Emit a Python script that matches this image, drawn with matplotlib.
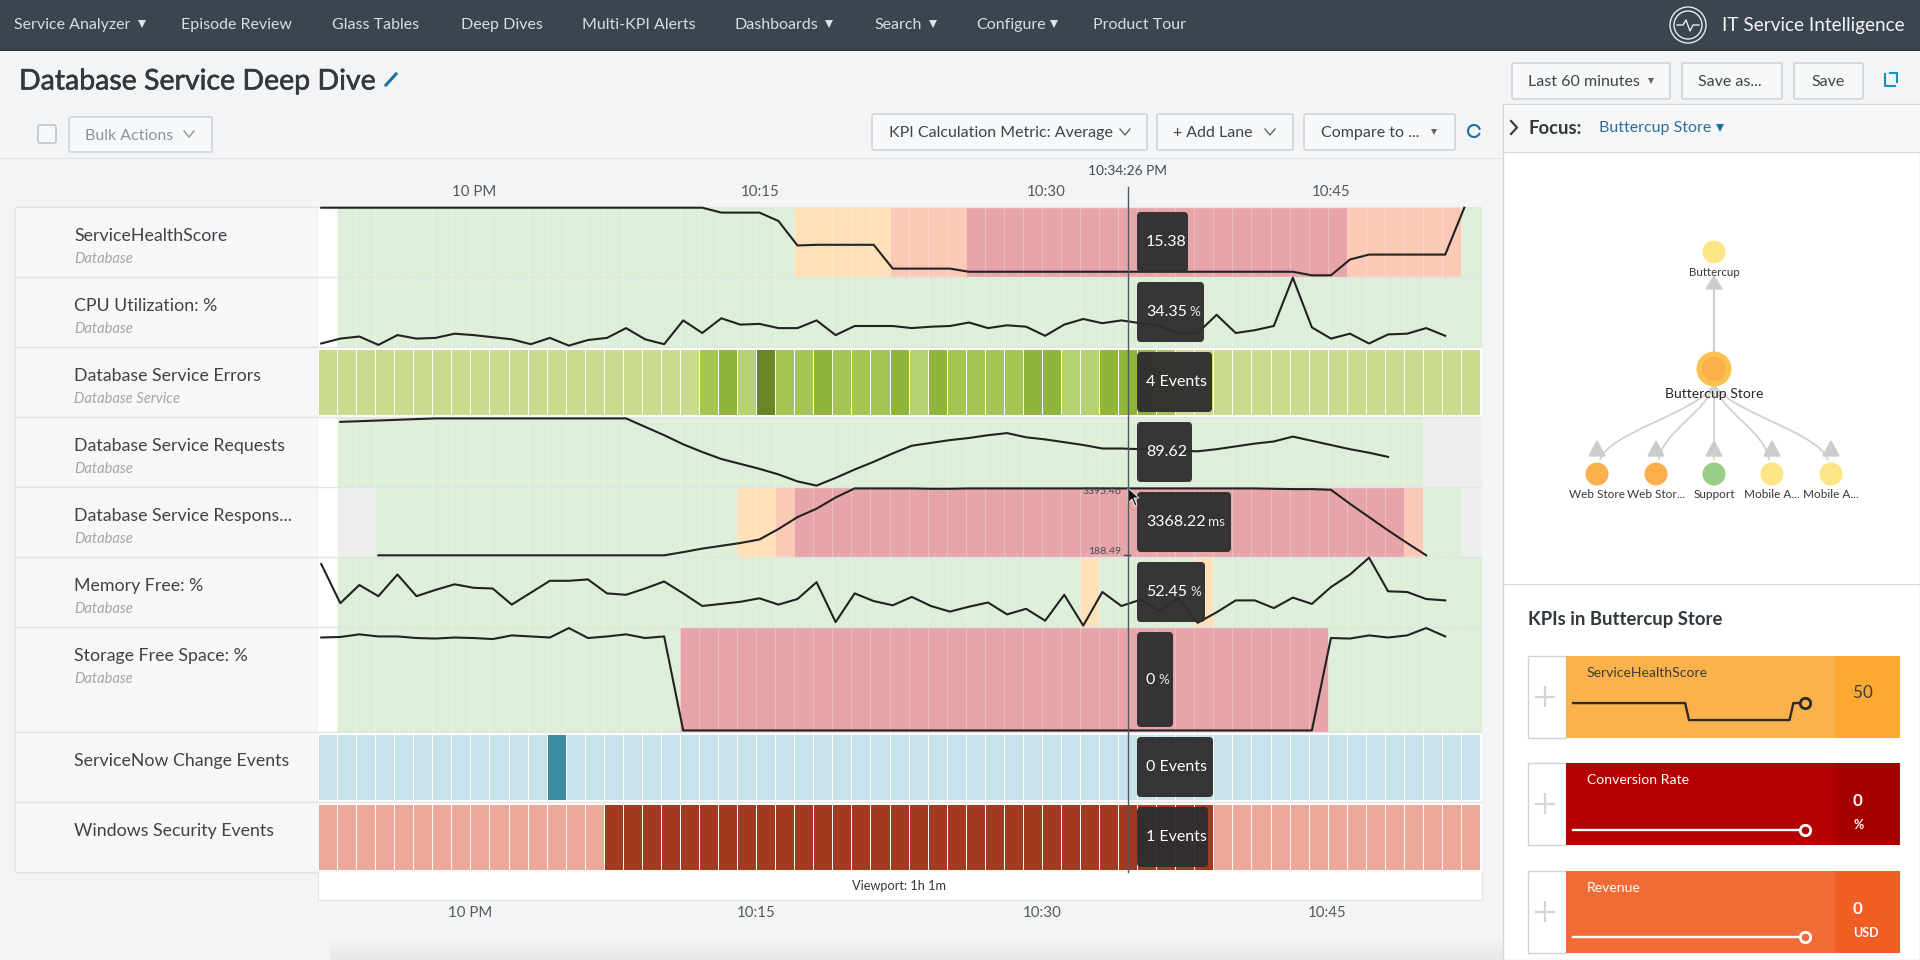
import matplotlib
matplotlib.use('Agg')
import matplotlib.pyplot as plt
import matplotlib.patheffects as pe
from matplotlib.colors import LinearSegmentedColormap
from matplotlib.patches import Rectangle, FancyBboxPatch, Circle, Polygon, PathPatch
from matplotlib.path import Path
import numpy as np

nan = float('nan')

NAV_ITEMS = ['Service Analyzer', 'Episode Review', 'Glass Tables', 'Deep Dives', 'Multi-KPI Alerts',
             'Dashboards', 'Search', 'Configure', 'Product Tour']
NAV_MENUS = [True, False, False, False, False, True, True, True, False]

TICK_LABELS = ['10 PM', '10:15', '10:30', '10:45']
TICK_MINUTES = [8.2, 23.2, 38.2, 53.2]

LANE_NAMES = ['ServiceHealthScore', 'CPU Utilization: %', 'Database Service Errors', 'Database Service Requests',
              'Database Service Respons...', 'Memory Free: %', 'Storage Free Space: %',
              'ServiceNow Change Events', 'Windows Security Events']
LANE_SERVICES = ['Database', 'Database', 'Database Service', 'Database', 'Database', 'Database', 'Database', '', '']
LANE_READINGS = ['15.38', '34.35', '4 Events', '89.62', '3368.22', '52.45', '0', '0 Events', '1 Events']
LANE_UNITS = ['', '%', '', '', 'ms', '%', '%', '', '']

# line values, as percent of the lane height, one per minute bucket
health_line = [99, 99, 99, 99, 99, 99, 99, 99, 99, 99, 99, 99, 99, 99, 99, 99, 99, 99, 99, 99, 99,
               92, 92, 92, 80, 45, 46, 46, 46, 46, 12, 12, 12, 12,
               7.5, 7.5, 7.5, 7.5, 7.5, 7.5, 7.5, 7.5, 7.5, 7.5, 7.5, 7.5, 7.5, 7.5, 7.5, 7.5, 7.5, 7.5,
               2.4, 2.4, 25, 32, 32, 32, 32, 32, 99]
cpu_line = [5, 12, 15, 3, 17, 12, 13, 19, 17, 14, 11, 4, 13, 2, 10, 13, 27, 11, 4, 38, 20, 41, 32, 33, 27, 27,
            38, 17, 30, 30, 30, 27, 29, 30, 35, 27, 31, 29, 16, 32, 40, 34, 38, 34, 30, 19, 20, 46, 20, 24, 30,
            99, 28, 12, 19, 5, 18, 19, 27, 16]
requests_line = [nan, 93, 94, 95, 96, 97, 98, 98, 98, 98, 98, 98, 98, 98, 98, 98, 98, 86, 74, 61, 50, 40, 33, 26,
                 18, 8, 2, 13, 25, 36, 48, 59, 63, 67, 70, 74, 77, 71, 68, 64, 60, 55, 55, 54, 54, 52, 51, 54, 58,
                 62, 65, 72, 66, 60, 54, 49, 43]
response_line = [nan, nan, nan, 2.4, 2.4, 2.4, 2.4, 2.4, 2.4, 2.4, 2.4, 2.4, 2.4, 2.4, 2.4, 2.4, 2.4, 2.4, 2.4,
                 7, 12, 16, 20, 25, 40, 57, 69, 85, 98, 98, 98, 98, 97.5, 97.5, 98, 98, 98, 98, 98, 98, 98, 98, 98,
                 98, 98, 98, 98, 98, 98, 98, 97.5, 97, 97, 96, 76, 57, 38, 20, 2.4]
memory_line = [90, 34, 60, 44, 75, 44, 53, 61, 56, 55, 32, 49, 66, 66, 68, 48, 46, 55, 65, 48, 30, 33, 36, 41, 32, 40,
               64, 7, 48, 37, 31, 43, 30, 22, 29, 35, 18, 26, 9, 46, 2, 50, 30, 39, 23, 41, 6, 21, 38, 38, 27, 42,
               33, 57, 75, 99, 51, 50, 40, 38]
storage_line = [90, 90.5, 93, 91, 91, 89.5, 89, 90, 89.5, 88.5, 92, 91, 90, 99, 89.5, 91, 93, 89.5, 91,
                1.5, 1.5, 1.5, 1.5, 1.5, 1.5, 1.5, 1.5, 1.5, 1.5, 1.5, 1.5, 1.5, 1.5, 1.5, 1.5, 1.5, 1.5, 1.5, 1.5,
                1.5, 1.5, 1.5, 1.5, 1.5, 1.5, 1.5, 1.5, 1.5, 1.5, 1.5, 1.5, 1.5, 1.5,
                89.5, 89, 92, 90, 92, 99, 91]

# severity runs as (state, buckets)
health_bands = [('none', 1), ('normal', 24), ('low', 5), ('medium', 4), ('high', 20), ('medium', 6), ('normal', 1)]
cpu_bands = [('none', 1), ('normal', 60)]
requests_bands = [('none', 1), ('normal', 57), ('unknown', 3)]
response_bands = [('none', 1), ('unknown', 2), ('normal', 19), ('low', 2), ('medium', 1), ('high', 32),
                  ('medium', 1), ('normal', 2), ('unknown', 1)]
memory_bands = [('none', 1), ('normal', 39), ('low', 1), ('normal', 5), ('low', 1), ('normal', 14)]
storage_bands = [('none', 1), ('normal', 18), ('high', 34), ('normal', 8)]

# event counts per bucket
errors_events = [1, 1, 1, 1, 1, 1, 1, 1, 1, 1, 1, 1, 1, 1, 1, 1, 1, 1, 1, 1,
                 3, 4, 2, 6, 3, 3, 4, 3, 3, 3, 4, 2, 4, 3, 3, 3, 3, 4, 4, 2, 2, 4, 4, 4, 3,
                 1, 1, 1, 1, 1, 1, 1, 1, 1, 1, 1, 1, 1, 1, 1, 1]
change_events = [0, 0, 0, 0, 0, 0, 0, 0, 0, 0, 0, 0, 1, 0, 0, 0, 0, 0, 0, 0, 0, 0, 0, 0, 0, 0, 0, 0, 0, 0,
                 0, 0, 0, 0, 0, 0, 0, 0, 0, 0, 0, 0, 0, 0, 0, 0, 0, 0, 0, 0, 0, 0, 0, 0, 0, 0, 0, 0, 0, 0, 0]
security_events = [0, 0, 0, 0, 0, 0, 0, 0, 0, 0, 0, 0, 0, 0, 0,
                   1, 1, 1, 1, 1, 1, 1, 1, 1, 1, 1, 1, 1, 1, 1, 1, 1, 1, 1, 1, 1, 1, 1, 1, 1, 1, 1, 1, 1, 1, 1, 1,
                   0, 0, 0, 0, 0, 0, 0, 0, 0, 0, 0, 0, 0, 0]

NODE_CHILDREN = ['Web Store', 'Web Stor...', 'Support', 'Mobile A...', 'Mobile A...']
NODE_STATES = ['#fbb04c', '#fbb04c', '#98cd85', '#fde485', '#fde485']

CARD_NAMES = ['ServiceHealthScore', 'Conversion Rate', 'Revenue']
CARD_VALUES = ['50', '0', '0']
CARD_UNITS = ['', '%', 'USD']
spark_minutes = [0, 29, 30, 56, 57, 60]
health_spark = [50, 50, 0, 0, 50, 50]
conversion_spark = [0, 0, 0, 0, 0, 0]
revenue_spark = [0, 0, 0, 0, 0, 0]

BAND_COLORS = {'none': '#ffffff', 'normal': '#ddefd8', 'low': '#fee0b9', 'medium': '#fcc9b6',
               'high': '#e8a5a9', 'unknown': '#eeeeee'}
ERROR_COLORS = {1: '#c9dc8d', 2: '#b6d172', 3: '#a4c553', 4: '#8fb53a', 6: '#6b8428'}
CHANGE_COLORS = {0: '#c7e2ea', 1: '#3a8c9e'}
SECURITY_COLORS = {0: '#eca99b', 1: '#a33a1f'}
TEXT = '#3c444d'

W, H = 1920, 960
LANE_EDGES = [207, 277, 347, 417, 487, 557, 627, 732, 802, 872]
PLOT_LEFT, PLOT_RIGHT = 318, 1482
X_MAX = 61.1
LINE_OFFSET = 0.17
CROSS_X = 1128
TIP_LEFT = 1137
TIP_RIGHTS = [1188, 1204, 1212, 1192, 1231, 1205, 1173, 1213, 1208]
UNIT_X = [0, 1189, 0, 0, 1208, 1190, 1158, 0, 0]

plt.rcParams['font.family'] = ['Lato', 'DejaVu Sans']


def px(size):
    return size * 0.72


def axes_at(fig, left, top, right, bottom, **kwargs):
    return fig.add_axes([left / W, 1 - bottom / H, (right - left) / W, (bottom - top) / H], **kwargs)


def label(ax, x, y, s, size=15, color=TEXT, ha='left', **kwargs):
    return ax.text(x, y + 1, s, fontsize=px(size), color=color, ha=ha, va='center', **kwargs)


def box(ax, x0, y0, x1, y1, face, edge='none', lw=1, **kwargs):
    ax.add_patch(Rectangle((x0, y0), x1 - x0, y1 - y0, facecolor=face, edgecolor=edge, linewidth=lw, **kwargs))


def button(ax, x0, y0, x1, y1, s, tx, size=16, color=TEXT):
    ax.add_patch(FancyBboxPatch((x0 + 2, y0 + 2), x1 - x0 - 4, y1 - y0 - 4, boxstyle='round,pad=2,rounding_size=2',
                                facecolor='#f7f8f9', edgecolor='#cfd3d7', linewidth=1.2))
    label(ax, tx, (y0 + y1) / 2, s, size=size, color=color)


def caret(ax, x, y, size=5.5, color='#dfe3e6'):
    ax.plot([x], [y], marker='v', ms=size, color=color, mew=0)


def chevron(ax, x, y, color='#5c6773', w=5, h=3):
    ax.plot([x - w, x, x + w], [y - h, y + h, y - h], color=color, lw=1)


def draw_chrome(ax):
    box(ax, 0, 0, W, H, '#f3f4f6')
    shade = np.linspace(0, 1, 24).reshape(-1, 1)
    cmap = LinearSegmentedColormap.from_list('page_shade', ['#f3f4f6', '#e7e9eb'])
    ax.imshow(shade, extent=(330, 1503, 960, 936), aspect='auto', cmap=cmap, zorder=1)
    ax.set_xlim(0, W)
    ax.set_ylim(H, 0)
    box(ax, 0, 0, W, 50, '#3c444d')
    box(ax, 0, 50, W, 51, '#2a3038')
    nav_x = [14, 181, 332, 461, 582, 735, 874, 976, 1093]
    nav_end = [136, 0, 0, 0, 0, 823, 927, 1048, 0]
    for s, x, menu, end in zip(NAV_ITEMS, nav_x, NAV_MENUS, nav_end):
        label(ax, x, 24, s, size=16, color='#d9dde0')
        if menu:
            caret(ax, end + 6, 24)
    ax.add_patch(Circle((1688, 25), 18, facecolor='none', edgecolor='#e8eaec', lw=1))
    ax.add_patch(Circle((1688, 25), 14, facecolor='none', edgecolor='#e8eaec', lw=1))
    ax.plot([1677, 1683, 1686, 1690, 1693, 1699], [25, 25, 20, 31, 25, 25], color='#e8eaec', lw=1)
    label(ax, 1722, 24, 'IT Service Intelligence', size=19, color='#f2f3f4')

    title = label(ax, 19, 80.5, 'Database Service Deep Dive', size=28.5, color='#32383f')
    title.set_path_effects([pe.withStroke(linewidth=0.4, foreground='#32383f')])
    ax.plot([386, 396], [85, 74], color='#1d6fa5', lw=2.2)

    button(ax, 1512, 63, 1670, 99, 'Last 60 minutes', 1528)
    caret(ax, 1651, 81, size=5, color='#5c6773')
    button(ax, 1682, 63, 1782, 99, 'Save as...', 1698)
    button(ax, 1794, 63, 1863, 99, 'Save', 1811)
    ax.plot([1885, 1885, 1895], [74, 86, 86], color='#1d8fb8', lw=1.5)
    ax.plot([1890, 1897, 1897], [73, 73, 82], color='#1d8fb8', lw=1.5)

    ax.add_patch(FancyBboxPatch((39, 126), 16, 16, boxstyle='round,pad=1,rounding_size=2', facecolor='#f7f8f9',
                                edgecolor='#bfc4c9', lw=1.2))
    button(ax, 69, 117, 212, 152, 'Bulk Actions', 85, color='#8b949c')
    chevron(ax, 189, 134, color='#8b949c')
    button(ax, 872, 114, 1147, 150, 'KPI Calculation Metric: Average', 889)
    chevron(ax, 1125, 132)
    button(ax, 1157, 114, 1293, 150, '+ Add Lane', 1173)
    chevron(ax, 1270, 132)
    button(ax, 1304, 114, 1455, 150, 'Compare to ...', 1321)
    caret(ax, 1434, 132, size=5, color='#5c6773')
    t = np.linspace(0.5, 5.9, 30)
    ax.plot(1474 + 6 * np.cos(t), 131 + 6 * np.sin(t), color='#1d6fa5', lw=1.5)
    box(ax, 0, 158, 1503, 159, '#dfe2e5')

    # right hand panel
    box(ax, 1503, 104, W, H, '#ffffff', edge='#d5d8db')
    box(ax, 1504, 105, W, 152, '#f5f6f7')
    box(ax, 1504, 152, W, 153, '#d5d8db')
    ax.plot([1511, 1517, 1511], [121, 127.5, 134], color='#32383f', lw=1.5)
    label(ax, 1529, 127, 'Focus:', size=18.5, color='#32383f', weight='bold')
    label(ax, 1599, 127, 'Buttercup Store', size=16, color='#2f6f96')
    caret(ax, 1720, 128, size=5.5, color='#1d6fa5')
    box(ax, 1504, 584, W, 585, '#d5d8db')
    label(ax, 1528, 619, 'KPIs in Buttercup Store', size=18.5, color='#32383f', weight='bold')

    # lane labels and frames
    for i, (name, service) in enumerate(zip(LANE_NAMES, LANE_SERVICES)):
        top, bottom = LANE_EDGES[i], LANE_EDGES[i + 1]
        box(ax, 15, top, PLOT_LEFT, bottom, '#f7f7f8', edge='#e2e3e5')
        label(ax, 74, top + 28, name, size=17.7, color='#3e4348')
        if service:
            label(ax, 74, top + 51, service, size=14.8, color='#a3a6a9', style='italic')


def draw_graph(ax):
    tx, ty = 1714, 369
    node_xs = [1597, 1656, 1714, 1772, 1831]
    ax.plot([tx, tx], [283, 352], color='#d0d0d0', lw=1.5)
    ax.add_patch(Polygon([(tx - 8, 289), (tx, 276), (tx + 8, 289)], color='#cccccc'))
    ax.add_patch(Circle((tx, 252), 11.5, facecolor='#fde485', edgecolor='none'))
    label(ax, tx, 271, 'Buttercup', size=11.5, color='#33383d', ha='center')
    for x, name, state in zip(node_xs, NODE_CHILDREN, NODE_STATES):
        side = np.sign(tx - x)
        path = Path([(tx, ty + 15), (tx + 0.12 * (x - tx), 412), (x + 0.1 * (tx - x), 432), (x + 3 * side, 460)],
                    [Path.MOVETO, Path.CURVE4, Path.CURVE4, Path.CURVE4])
        ax.add_patch(PathPatch(path, facecolor='none', edgecolor='#d0d0d0', lw=1.3))
        ax.add_patch(Polygon([(x - 8, 456), (x, 441), (x + 8, 456)], color='#cccccc', zorder=3))
        ax.add_patch(Circle((x, 474), 11.5, facecolor=state, edgecolor='none', zorder=3))
        label(ax, x, 493, name, size=11.7, color='#33383d', ha='center')
    ax.add_patch(Circle((tx, ty), 17.5, facecolor='#fcc24f', edgecolor='none', zorder=3))
    ax.add_patch(Circle((tx, ty), 12, facecolor='#fbb04c', edgecolor='none', zorder=3))
    label(ax, tx, 393, 'Buttercup Store', size=14, color='#22272b', ha='center', zorder=4)


def draw_lane(fig, i, line=None, bands=None, events=None, colors=None):
    ax = axes_at(fig, PLOT_LEFT, LANE_EDGES[i], PLOT_RIGHT, LANE_EDGES[i + 1], zorder=1)
    ax.set_xlim(0, X_MAX)
    ax.set_ylim(0, 100)
    ax.set_xticks([])
    ax.set_yticks([])
    for spine in ax.spines.values():
        spine.set_visible(False)
    if bands is not None:
        start = 0
        for state, n in bands:
            edge = 'none' if state == 'none' else (1, 1, 1, 0.05)
            ax.bar(np.arange(start, start + n), 100, width=1, align='edge', color=BAND_COLORS[state],
                   edgecolor=edge, linewidth=0.6)
            start += n
        ax.axvspan(61, X_MAX, color=BAND_COLORS[bands[-1][0]], lw=0)
    if events is not None:
        ax.bar(np.arange(len(events)), 95, bottom=2.5, width=1, align='edge',
               color=[colors[v] for v in events], edgecolor='#ffffff', linewidth=0.7)
    ax.axhline(0, color='#e2e3e5', lw=1, zorder=6)
    ax.axhline(100, color='#e2e3e5', lw=1, zorder=6)
    if bands is not None:
        ax.plot(np.arange(len(line)) + LINE_OFFSET, line, color='#222222', lw=1.5, clip_on=False, zorder=7)
    return ax


def draw_card(fig, ax, i, top, base, dark, values, ylim, text_color):
    bottom = top + 82
    box(ax, 1528, top, 1566, bottom, '#ffffff', edge='#cfd3d7')
    ax.plot([1545, 1545], [top + 31, top + 50], color='#d2d4d6', lw=1.6)
    ax.plot([1536, 1554], [top + 41, top + 41], color='#d2d4d6', lw=1.6)
    box(ax, 1566, top, 1900, bottom, base)
    box(ax, 1835, top, 1900, bottom, dark)
    label(ax, 1587, top + 16, CARD_NAMES[i], size=14, color=text_color)
    if CARD_UNITS[i]:
        label(ax, 1853, top + 37, CARD_VALUES[i], size=17, color=text_color, weight='bold')
        label(ax, 1853, top + 61, CARD_UNITS[i], size=12.5, color=text_color, weight='bold')
    else:
        label(ax, 1853, top + 36, CARD_VALUES[i], size=17, color=text_color)
    spark = axes_at(fig, 1573, top + 36, 1805, top + 78, zorder=3)
    spark.patch.set_alpha(0)
    spark.axis('off')
    spark.set_xlim(0, 60)
    spark.set_ylim(*ylim)
    line_color = '#2b2b2b' if i == 0 else '#ffffff'
    spark.plot(spark_minutes, values, color=line_color, lw=1.7, clip_on=False)
    spark.plot(spark_minutes[-1], values[-1], marker='o', ms=7.5, mfc=base, mec=line_color, mew=2, clip_on=False)


def draw_overlay(ax):
    ax.plot([CROSS_X, CROSS_X], [187, 872], color='#4d5a5e', lw=1)
    label(ax, CROSS_X, 170, '10:34:26 PM', size=13.8, color='#444a50', ha='center')
    for i, reading in enumerate(LANE_READINGS):
        top, bottom = LANE_EDGES[i] + 5, LANE_EDGES[i + 1] - 5
        ax.add_patch(FancyBboxPatch((TIP_LEFT + 3, top + 3), TIP_RIGHTS[i] - TIP_LEFT - 6, bottom - top - 6,
                                    boxstyle='round,pad=3,rounding_size=4', facecolor='#2e2e2e', alpha=0.96,
                                    edgecolor='none'))
        label(ax, TIP_LEFT + 9, (top + bottom) / 2 - 1, reading, size=16, color='#ffffff')
        if LANE_UNITS[i]:
            label(ax, UNIT_X[i], (top + bottom) / 2 - 1, LANE_UNITS[i], size=13.5, color='#e8e8e8')
    label(ax, 1121, 491, '3395.46', size=10.5, color='#444a50', ha='right')
    label(ax, 1121, 551, '188.49', size=10.5, color='#444a50', ha='right')
    ax.plot([1124, 1130], [555, 555], color='#444a50', lw=1)
    ax.add_patch(Polygon([(1128, 488), (1128, 503), (1132, 499), (1135, 506), (1137, 505), (1134, 498), (1139, 498)],
                         facecolor='#111111', edgecolor='#ffffff', lw=0.6))


def main():
    fig = plt.figure(figsize=(W / 100, H / 100), dpi=100)
    chrome = fig.add_axes([0, 0, 1, 1], zorder=0)
    chrome.set_xlim(0, W)
    chrome.set_ylim(H, 0)
    chrome.axis('off')
    draw_chrome(chrome)
    draw_graph(chrome)

    lanes = [
        draw_lane(fig, 0, health_line, health_bands),
        draw_lane(fig, 1, cpu_line, cpu_bands),
        draw_lane(fig, 2, events=errors_events, colors=ERROR_COLORS),
        draw_lane(fig, 3, requests_line, requests_bands),
        draw_lane(fig, 4, response_line, response_bands),
        draw_lane(fig, 5, memory_line, memory_bands),
        draw_lane(fig, 6, storage_line, storage_bands),
        draw_lane(fig, 7, events=change_events, colors=CHANGE_COLORS),
        draw_lane(fig, 8, events=security_events, colors=SECURITY_COLORS),
    ]

    top = lanes[0]
    top.xaxis.tick_top()
    top.set_xticks(TICK_MINUTES, TICK_LABELS, fontsize=px(15), color='#55595e')
    top.tick_params(axis='x', length=0, pad=6)

    viewport = axes_at(fig, PLOT_LEFT, LANE_EDGES[-1], PLOT_RIGHT, 900, zorder=1)
    viewport.set_xlim(0, X_MAX)
    viewport.set_yticks([])
    viewport.set_xticks([m - 0.21 for m in TICK_MINUTES], TICK_LABELS, fontsize=px(15), color='#55595e')
    viewport.tick_params(axis='x', length=0, pad=4)
    viewport.spines['top'].set_visible(False)
    for side in ['left', 'right', 'bottom']:
        viewport.spines[side].set_color('#e2e3e5')
    viewport.text(0.459, 0.5, 'Viewport: 1h 1m', transform=viewport.transAxes, fontsize=px(12.8), color='#33383d',
                  va='center')

    draw_card(fig, chrome, 0, 656, '#fcb24c', '#fca931', health_spark, (-41, 82.5), '#3c3c3c')
    draw_card(fig, chrome, 1, 763, '#b30000', '#a60000', conversion_spark, (-11, 31), '#ffffff')
    draw_card(fig, chrome, 2, 871, '#f26a35', '#f15d22', revenue_spark, (-12, 30), '#ffffff')

    overlay = fig.add_axes([0, 0, 1, 1], zorder=5)
    overlay.set_xlim(0, W)
    overlay.set_ylim(H, 0)
    overlay.axis('off')
    overlay.patch.set_alpha(0)
    draw_overlay(overlay)

    fig.savefig('out.png', dpi=100)


if __name__ == '__main__':
    main()
